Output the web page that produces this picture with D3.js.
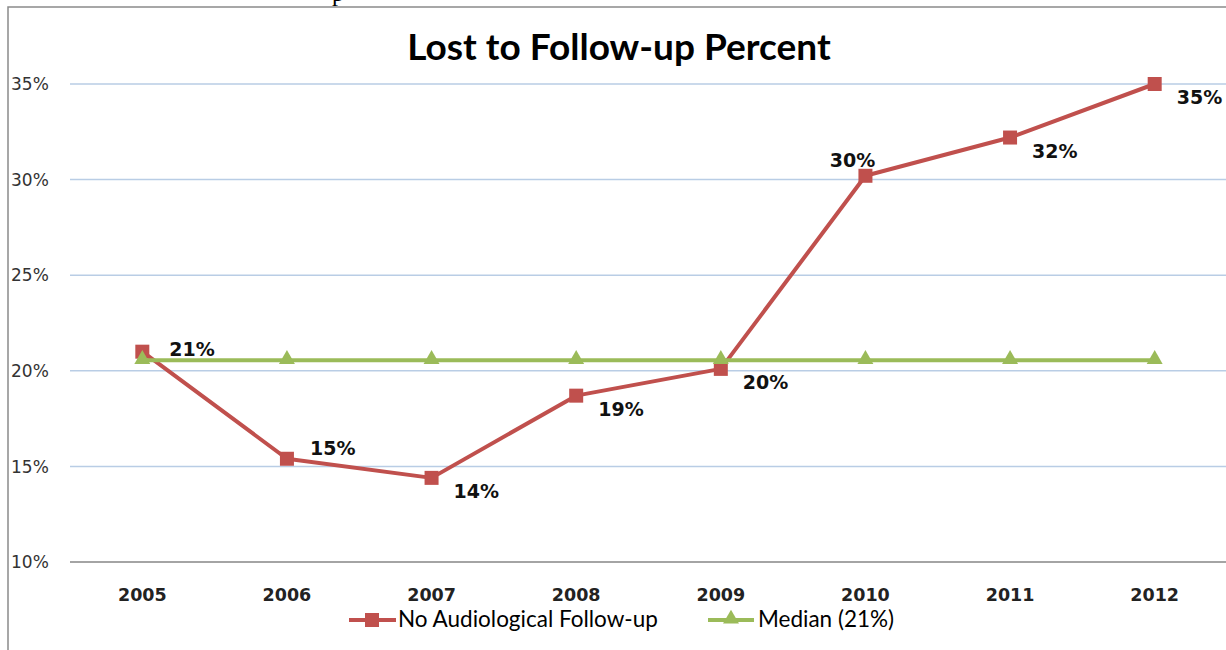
<!DOCTYPE html>
<html>
<head>
<meta charset="utf-8">
<script src="https://cdn.jsdelivr.net/npm/d3@7"></script>
<style>
  html, body { margin: 0; padding: 0; background: #fff; }
  svg { display: block; }
</style>
</head>
<body>
<svg id="chart" width="1226" height="650"></svg>
<script>
// ---- data ----
const years = ["2005", "2006", "2007", "2008", "2009", "2010", "2011", "2012"];
const lostValues = [0.210, 0.154, 0.144, 0.187, 0.201, 0.302, 0.322, 0.350];
const lostLabels = ["21%", "15%", "14%", "19%", "20%", "30%", "32%", "35%"];
const labelPlacement = ["right", "rightUp", "rightDown", "rightDown", "rightDown", "above", "rightDown", "rightDown"];
const medianValues = [0.2055, 0.2055, 0.2055, 0.2055, 0.2055, 0.2055, 0.2055, 0.2055];
const yTicks = [0.10, 0.15, 0.20, 0.25, 0.30, 0.35];
const seriesNames = ["No Audiological Follow-up", "Median (21%)"];
const title = "Lost to Follow-up Percent";

const RED = "#C0504D", GREEN = "#9BBB59";

const svg = d3.select("#chart");

// stray text fragment at very top (from surrounding document)
svg.append("text").attr("x", 332).attr("y", 1)
  .attr("font-family", "Liberation Serif").attr("font-size", 24).text("p");

// chart frame
svg.append("rect").attr("x", 8).attr("y", 7).attr("width", 1240).attr("height", 660)
  .attr("fill", "none").attr("stroke", "#8a8a8a").attr("stroke-width", 1.5);

const x = d3.scaleBand().domain(years).range([70, 1227]);
const y = d3.scaleLinear().domain([0.10, 0.35]).range([562, 84]);
const cx = d => x(d) + x.bandwidth() / 2;

// gridlines
svg.append("g").selectAll("line").data(yTicks.filter(t => t > 0.10)).join("line")
  .attr("x1", 70).attr("x2", 1227)
  .attr("y1", d => y(d)).attr("y2", d => y(d))
  .attr("stroke", "#B9CDE5").attr("stroke-width", 1.5);

// x axis line
svg.append("line").attr("x1", 70).attr("x2", 1227).attr("y1", y(0.10)).attr("y2", y(0.10))
  .attr("stroke", "#868686").attr("stroke-width", 1.5);

// y tick labels
const fmt = d3.format(".0%");
svg.append("g").selectAll("text").data(yTicks).join("text")
  .attr("x", 11).attr("y", d => y(d)).attr("dy", "0.36em")
  .attr("font-family", "DejaVu Sans").attr("font-size", 17).attr("fill", "#333")
  .text(d => fmt(d));

// x tick labels
const xAxis = d3.axisBottom(x).tickSize(0).tickPadding(0);
const xg = svg.append("g").attr("transform", `translate(0,${y(0.10)})`).call(xAxis);
xg.select(".domain").remove();
xg.selectAll("text").attr("y", 39).attr("dy", 0)
  .attr("font-family", "DejaVu Sans").attr("font-weight", "bold").attr("font-size", 17.5).attr("fill", "#222");

// title
svg.append("text").attr("x", 619).attr("y", 60).attr("text-anchor", "middle")
  .attr("font-family", "Lato").attr("font-weight", "bold").attr("font-size", 37).attr("fill", "#000")
  .text(title);

// lines
const line = d3.line().x((d, i) => cx(years[i])).y(d => y(d));
svg.append("path").datum(lostValues).attr("d", line)
  .attr("fill", "none").attr("stroke", RED).attr("stroke-width", 4).attr("stroke-linejoin", "round");

svg.append("g").selectAll("rect").data(lostValues).join("rect")
  .attr("x", (d, i) => cx(years[i]) - 7).attr("y", d => y(d) - 7)
  .attr("width", 14).attr("height", 14).attr("fill", RED);

svg.append("path").datum(medianValues).attr("d", line)
  .attr("fill", "none").attr("stroke", GREEN).attr("stroke-width", 4);

const tri = d3.symbol().type(d3.symbolTriangle).size(110);
svg.append("g").selectAll("path").data(medianValues).join("path")
  .attr("transform", (d, i) => `translate(${cx(years[i])},${y(d) - 1})`)
  .attr("d", tri).attr("fill", GREEN);

// data labels
const offsets = {
  right:     { dx: 27, dy: 4,  anchor: "start" },
  rightUp:   { dx: 23, dy: -4, anchor: "start" },
  rightDown: { dx: 22, dy: 20, anchor: "start" },
  above:     { dx: -13, dy: -9, anchor: "middle" }
};
svg.append("g").selectAll("text").data(lostValues).join("text")
  .attr("x", (d, i) => cx(years[i]) + offsets[labelPlacement[i]].dx)
  .attr("y", (d, i) => y(d) + offsets[labelPlacement[i]].dy)
  .attr("text-anchor", (d, i) => offsets[labelPlacement[i]].anchor)
  .attr("font-family", "DejaVu Sans").attr("font-weight", "bold").attr("font-size", 19).attr("fill", "#111")
  .text((d, i) => lostLabels[i]);

// legend
const legend = svg.append("g");
const lg1 = legend.append("g").attr("transform", "translate(349,620)");
lg1.append("line").attr("x1", 0).attr("x2", 47).attr("stroke", RED).attr("stroke-width", 4);
lg1.append("rect").attr("x", 16).attr("y", -7).attr("width", 14).attr("height", 14).attr("fill", RED);
lg1.append("text").attr("x", 49).attr("y", 7)
  .attr("font-family", "Lato").attr("font-size", 22.5).attr("fill", "#000").text(seriesNames[0]);

const lg2 = legend.append("g").attr("transform", "translate(708,620)");
lg2.append("line").attr("x1", 0).attr("x2", 46).attr("stroke", GREEN).attr("stroke-width", 4);
lg2.append("path").attr("transform", "translate(23,-1)").attr("d", tri).attr("fill", GREEN);
lg2.append("text").attr("x", 50).attr("y", 7)
  .attr("font-family", "Lato").attr("font-size", 22.5).attr("fill", "#000").text(seriesNames[1]);
</script>
</body>
</html>
